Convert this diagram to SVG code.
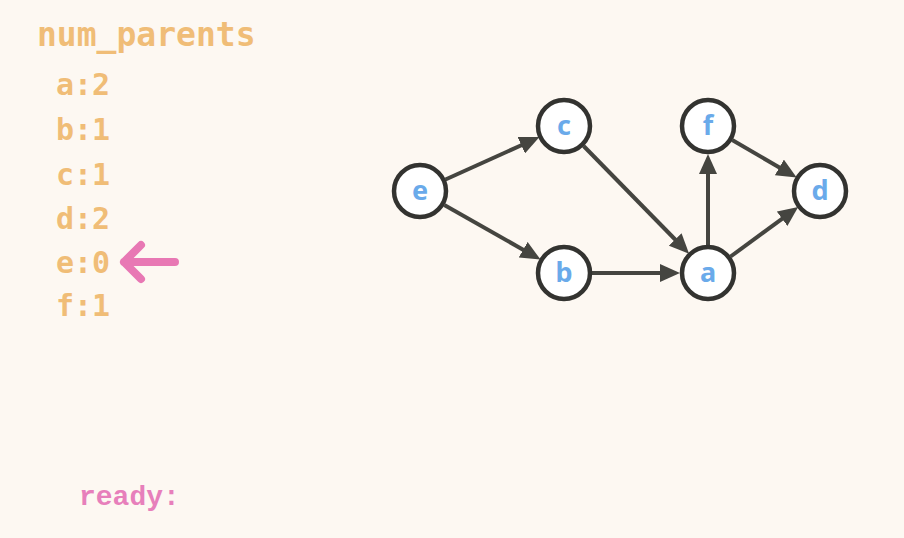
<svg xmlns="http://www.w3.org/2000/svg" width="904" height="538" viewBox="0 0 904 538">
<style>
.bg{fill:#FDF8F2}
.mono{font-family:"DejaVu Sans Mono","Liberation Mono",monospace;font-weight:bold;fill:#F0BD77}
.node circle{fill:#FFFFFF;stroke:#333330;stroke-width:4.5}
.node text{font-family:"Noto Sans","Liberation Sans",sans-serif;font-weight:bold;font-size:27px;fill:#6AAAEA;text-anchor:middle}
.edge{stroke:#454540;stroke-width:4;fill:none;marker-end:url(#ah)}
.ready{font-family:"Liberation Mono","Courier New",monospace;font-weight:bold;font-size:28px;fill:#E77FBB}
</style>
<defs>
<marker id="ah" markerUnits="userSpaceOnUse" viewBox="0 0 20 18" markerWidth="20" markerHeight="18" refX="5" refY="9" orient="auto">
<path d="M0,0 L20,9 L0,18 z" fill="#454540"/>
</marker>
</defs>
<rect class="bg" x="0" y="0" width="904" height="538"/>
<g id="table">
<text class="mono" x="37" y="46" font-size="33">num_parents</text>
<text class="mono" x="56" y="95" font-size="30">a:2</text>
<text class="mono" x="56" y="140" font-size="30">b:1</text>
<text class="mono" x="56" y="185" font-size="30">c:1</text>
<text class="mono" x="56" y="229" font-size="30">d:2</text>
<text class="mono" x="56" y="273" font-size="30">e:0</text>
<text class="mono" x="56" y="316" font-size="30">f:1</text>
</g>
<g id="pointer" fill="none" stroke="#E878B4" stroke-width="8" stroke-linecap="round" stroke-linejoin="round">
<path d="M175,262 L124,262 M141,245 L124,262 L141,279"/>
</g>
<g id="connectors">
<line class="edge" x1="445.5" y1="179.5" x2="525.8" y2="143.2"/>
<line class="edge" x1="444.3" y1="204.9" x2="527.5" y2="252.2"/>
<line class="edge" x1="583.6" y1="146.0" x2="678.6" y2="243.0"/>
<line class="edge" x1="592" y1="273" x2="665" y2="273"/>
<line class="edge" x1="708" y1="245" x2="708" y2="169"/>
<line class="edge" x1="730.6" y1="256.5" x2="786.1" y2="215.8"/>
<line class="edge" x1="732.2" y1="140.1" x2="783.7" y2="169.9"/>
</g>
<g id="node-e" class="node"><circle cx="420" cy="191" r="26"/><text x="420" y="200">e</text></g>
<g id="node-c" class="node"><circle cx="564" cy="126" r="26"/><text x="564" y="135">c</text></g>
<g id="node-f" class="node"><circle cx="708" cy="126" r="26"/><text x="708" y="135">f</text></g>
<g id="node-d" class="node"><circle cx="820" cy="191" r="26"/><text x="820" y="200">d</text></g>
<g id="node-b" class="node"><circle cx="564" cy="273" r="26"/><text x="564" y="282">b</text></g>
<g id="node-a" class="node"><circle cx="708" cy="273" r="26"/><text x="708" y="282">a</text></g>
<text class="ready" x="79" y="505">ready:</text>
</svg>
